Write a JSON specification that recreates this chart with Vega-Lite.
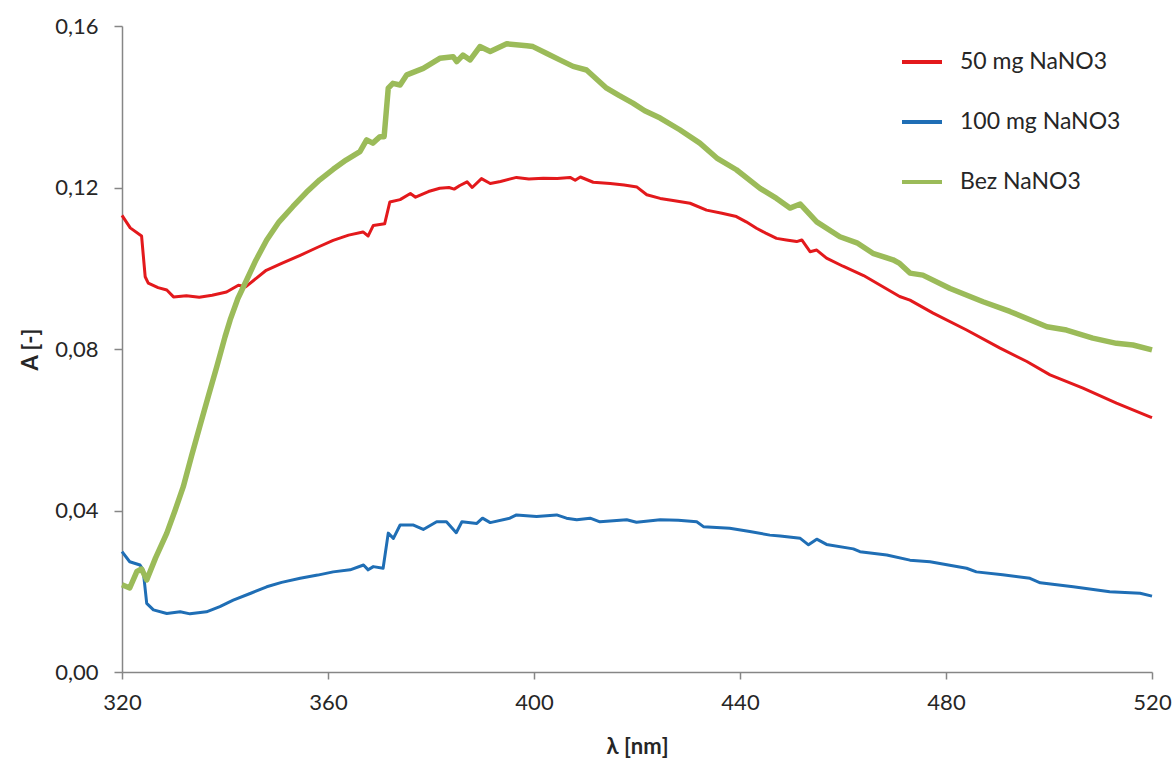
{
  "$schema": "https://vega.github.io/schema/vega-lite/v6.json",
  "width": 1030,
  "height": 646,
  "autosize": "none",
  "padding": {"left": 122, "top": 26, "right": 24, "bottom": 93},
  "background": "white",
  "config": {"view": {"stroke": null}, "font": "Lato"},
  "data": {"values": [
    {"s":"50 mg NaNO3","l":320,"a":0.1131},{"s":"50 mg NaNO3","l":321.6,"a":0.110},{"s":"50 mg NaNO3","l":323.8,"a":0.108},{"s":"50 mg NaNO3","l":324.5,"a":0.0979},{"s":"50 mg NaNO3","l":325.1,"a":0.0963},{"s":"50 mg NaNO3","l":327,"a":0.0952},{"s":"50 mg NaNO3","l":328.7,"a":0.0946},{"s":"50 mg NaNO3","l":330,"a":0.0929},{"s":"50 mg NaNO3","l":332.5,"a":0.0932},{"s":"50 mg NaNO3","l":335,"a":0.0928},{"s":"50 mg NaNO3","l":337.5,"a":0.0933},{"s":"50 mg NaNO3","l":340.3,"a":0.0941},{"s":"50 mg NaNO3","l":342.6,"a":0.0958},{"s":"50 mg NaNO3","l":344,"a":0.0954},{"s":"50 mg NaNO3","l":348,"a":0.0995},{"s":"50 mg NaNO3","l":351,"a":0.1012},{"s":"50 mg NaNO3","l":354.6,"a":0.1032},{"s":"50 mg NaNO3","l":358,"a":0.1052},{"s":"50 mg NaNO3","l":361,"a":0.1069},{"s":"50 mg NaNO3","l":364,"a":0.1082},{"s":"50 mg NaNO3","l":366.8,"a":0.109},{"s":"50 mg NaNO3","l":367.8,"a":0.108},{"s":"50 mg NaNO3","l":368.8,"a":0.1106},{"s":"50 mg NaNO3","l":371,"a":0.111},{"s":"50 mg NaNO3","l":372,"a":0.1164},{"s":"50 mg NaNO3","l":374,"a":0.117},{"s":"50 mg NaNO3","l":376,"a":0.1185},{"s":"50 mg NaNO3","l":377,"a":0.1176},{"s":"50 mg NaNO3","l":379.5,"a":0.119},{"s":"50 mg NaNO3","l":381.7,"a":0.1198},{"s":"50 mg NaNO3","l":383.5,"a":0.12},{"s":"50 mg NaNO3","l":384.5,"a":0.1196},{"s":"50 mg NaNO3","l":385.6,"a":0.1205},{"s":"50 mg NaNO3","l":387,"a":0.1214},{"s":"50 mg NaNO3","l":388,"a":0.12},{"s":"50 mg NaNO3","l":389.8,"a":0.1222},{"s":"50 mg NaNO3","l":391.5,"a":0.121},{"s":"50 mg NaNO3","l":393.5,"a":0.1215},{"s":"50 mg NaNO3","l":396.6,"a":0.1225},{"s":"50 mg NaNO3","l":399,"a":0.1221},{"s":"50 mg NaNO3","l":401.8,"a":0.1223},{"s":"50 mg NaNO3","l":404.5,"a":0.1222},{"s":"50 mg NaNO3","l":407,"a":0.1225},{"s":"50 mg NaNO3","l":408,"a":0.1218},{"s":"50 mg NaNO3","l":409,"a":0.1226},{"s":"50 mg NaNO3","l":411.5,"a":0.1213},{"s":"50 mg NaNO3","l":414.8,"a":0.121},{"s":"50 mg NaNO3","l":417.5,"a":0.1206},{"s":"50 mg NaNO3","l":420,"a":0.1201},{"s":"50 mg NaNO3","l":421.9,"a":0.1182},{"s":"50 mg NaNO3","l":424.5,"a":0.1173},{"s":"50 mg NaNO3","l":427,"a":0.1168},{"s":"50 mg NaNO3","l":430.3,"a":0.1161},{"s":"50 mg NaNO3","l":433.5,"a":0.1144},{"s":"50 mg NaNO3","l":436.5,"a":0.1136},{"s":"50 mg NaNO3","l":439.3,"a":0.1128},{"s":"50 mg NaNO3","l":441.2,"a":0.1115},{"s":"50 mg NaNO3","l":443.2,"a":0.1099},{"s":"50 mg NaNO3","l":445,"a":0.1087},{"s":"50 mg NaNO3","l":447.1,"a":0.1074},{"s":"50 mg NaNO3","l":449,"a":0.107},{"s":"50 mg NaNO3","l":451,"a":0.1066},{"s":"50 mg NaNO3","l":452,"a":0.107},{"s":"50 mg NaNO3","l":453.6,"a":0.1041},{"s":"50 mg NaNO3","l":454.9,"a":0.1045},{"s":"50 mg NaNO3","l":456.8,"a":0.1025},{"s":"50 mg NaNO3","l":460,"a":0.1005},{"s":"50 mg NaNO3","l":464,"a":0.0982},{"s":"50 mg NaNO3","l":467.5,"a":0.0956},{"s":"50 mg NaNO3","l":471,"a":0.093},{"s":"50 mg NaNO3","l":473,"a":0.0921},{"s":"50 mg NaNO3","l":477.5,"a":0.0889},{"s":"50 mg NaNO3","l":484,"a":0.0847},{"s":"50 mg NaNO3","l":490.5,"a":0.0802},{"s":"50 mg NaNO3","l":495.7,"a":0.0769},{"s":"50 mg NaNO3","l":500.2,"a":0.0736},{"s":"50 mg NaNO3","l":506.6,"a":0.0703},{"s":"50 mg NaNO3","l":513.1,"a":0.0666},{"s":"50 mg NaNO3","l":519.6,"a":0.0632},{"s":"50 mg NaNO3","l":520,"a":0.063},
    {"s":"100 mg NaNO3","l":320,"a":0.0298},{"s":"100 mg NaNO3","l":321.5,"a":0.0273},{"s":"100 mg NaNO3","l":323.5,"a":0.0265},{"s":"100 mg NaNO3","l":324.1,"a":0.0253},{"s":"100 mg NaNO3","l":324.8,"a":0.017},{"s":"100 mg NaNO3","l":326.1,"a":0.0154},{"s":"100 mg NaNO3","l":328.7,"a":0.0145},{"s":"100 mg NaNO3","l":331.3,"a":0.0149},{"s":"100 mg NaNO3","l":333.2,"a":0.0144},{"s":"100 mg NaNO3","l":336.4,"a":0.0149},{"s":"100 mg NaNO3","l":339,"a":0.0162},{"s":"100 mg NaNO3","l":341.6,"a":0.0178},{"s":"100 mg NaNO3","l":345,"a":0.0195},{"s":"100 mg NaNO3","l":348.1,"a":0.0211},{"s":"100 mg NaNO3","l":351,"a":0.0222},{"s":"100 mg NaNO3","l":354.6,"a":0.0232},{"s":"100 mg NaNO3","l":358,"a":0.024},{"s":"100 mg NaNO3","l":361,"a":0.0248},{"s":"100 mg NaNO3","l":364.3,"a":0.0253},{"s":"100 mg NaNO3","l":366.9,"a":0.0265},{"s":"100 mg NaNO3","l":367.8,"a":0.0253},{"s":"100 mg NaNO3","l":368.8,"a":0.0261},{"s":"100 mg NaNO3","l":370.7,"a":0.0257},{"s":"100 mg NaNO3","l":371.7,"a":0.0344},{"s":"100 mg NaNO3","l":372.7,"a":0.0331},{"s":"100 mg NaNO3","l":374,"a":0.0364},{"s":"100 mg NaNO3","l":376.6,"a":0.0364},{"s":"100 mg NaNO3","l":378.5,"a":0.0353},{"s":"100 mg NaNO3","l":381.1,"a":0.0372},{"s":"100 mg NaNO3","l":383,"a":0.0372},{"s":"100 mg NaNO3","l":384.9,"a":0.0345},{"s":"100 mg NaNO3","l":386,"a":0.0372},{"s":"100 mg NaNO3","l":388.9,"a":0.0368},{"s":"100 mg NaNO3","l":390,"a":0.0381},{"s":"100 mg NaNO3","l":391.5,"a":0.037},{"s":"100 mg NaNO3","l":395.3,"a":0.0381},{"s":"100 mg NaNO3","l":396.6,"a":0.0389},{"s":"100 mg NaNO3","l":400.5,"a":0.0385},{"s":"100 mg NaNO3","l":404.4,"a":0.0389},{"s":"100 mg NaNO3","l":406.3,"a":0.0381},{"s":"100 mg NaNO3","l":408.3,"a":0.0377},{"s":"100 mg NaNO3","l":410.9,"a":0.0381},{"s":"100 mg NaNO3","l":412.8,"a":0.0372},{"s":"100 mg NaNO3","l":418,"a":0.0377},{"s":"100 mg NaNO3","l":419.9,"a":0.0371},{"s":"100 mg NaNO3","l":424.5,"a":0.0377},{"s":"100 mg NaNO3","l":428,"a":0.0376},{"s":"100 mg NaNO3","l":431.6,"a":0.0372},{"s":"100 mg NaNO3","l":432.9,"a":0.036},{"s":"100 mg NaNO3","l":438,"a":0.0356},{"s":"100 mg NaNO3","l":441.9,"a":0.0348},{"s":"100 mg NaNO3","l":445.8,"a":0.0339},{"s":"100 mg NaNO3","l":447.8,"a":0.0337},{"s":"100 mg NaNO3","l":451.7,"a":0.0331},{"s":"100 mg NaNO3","l":453.3,"a":0.0315},{"s":"100 mg NaNO3","l":454.9,"a":0.0329},{"s":"100 mg NaNO3","l":456.8,"a":0.0316},{"s":"100 mg NaNO3","l":462,"a":0.0305},{"s":"100 mg NaNO3","l":463.3,"a":0.0298},{"s":"100 mg NaNO3","l":468.5,"a":0.029},{"s":"100 mg NaNO3","l":473,"a":0.0277},{"s":"100 mg NaNO3","l":476.9,"a":0.0273},{"s":"100 mg NaNO3","l":484,"a":0.0257},{"s":"100 mg NaNO3","l":485.9,"a":0.0248},{"s":"100 mg NaNO3","l":491,"a":0.0241},{"s":"100 mg NaNO3","l":496.3,"a":0.0232},{"s":"100 mg NaNO3","l":498.3,"a":0.0221},{"s":"100 mg NaNO3","l":504.7,"a":0.0211},{"s":"100 mg NaNO3","l":511.8,"a":0.0199},{"s":"100 mg NaNO3","l":517.7,"a":0.0195},{"s":"100 mg NaNO3","l":520,"a":0.0188},
    {"s":"Bez NaNO3","l":320,"a":0.0216},{"s":"Bez NaNO3","l":321.5,"a":0.0208},{"s":"Bez NaNO3","l":322.9,"a":0.0249},{"s":"Bez NaNO3","l":323.8,"a":0.0255},{"s":"Bez NaNO3","l":324.8,"a":0.0228},{"s":"Bez NaNO3","l":326.5,"a":0.0282},{"s":"Bez NaNO3","l":328.7,"a":0.0344},{"s":"Bez NaNO3","l":330.3,"a":0.04},{"s":"Bez NaNO3","l":331.9,"a":0.0459},{"s":"Bez NaNO3","l":333.5,"a":0.0535},{"s":"Bez NaNO3","l":335.1,"a":0.0608},{"s":"Bez NaNO3","l":336.8,"a":0.0685},{"s":"Bez NaNO3","l":338.4,"a":0.0756},{"s":"Bez NaNO3","l":340,"a":0.083},{"s":"Bez NaNO3","l":341,"a":0.0872},{"s":"Bez NaNO3","l":342.5,"a":0.0925},{"s":"Bez NaNO3","l":344.2,"a":0.0971},{"s":"Bez NaNO3","l":346,"a":0.102},{"s":"Bez NaNO3","l":348.1,"a":0.107},{"s":"Bez NaNO3","l":350.5,"a":0.1115},{"s":"Bez NaNO3","l":353.2,"a":0.1153},{"s":"Bez NaNO3","l":355.8,"a":0.1188},{"s":"Bez NaNO3","l":358.4,"a":0.1219},{"s":"Bez NaNO3","l":361,"a":0.1245},{"s":"Bez NaNO3","l":363.5,"a":0.1268},{"s":"Bez NaNO3","l":366.2,"a":0.1289},{"s":"Bez NaNO3","l":367.5,"a":0.1318},{"s":"Bez NaNO3","l":368.7,"a":0.131},{"s":"Bez NaNO3","l":370.1,"a":0.1326},{"s":"Bez NaNO3","l":370.9,"a":0.1326},{"s":"Bez NaNO3","l":371.7,"a":0.1446},{"s":"Bez NaNO3","l":372.6,"a":0.1458},{"s":"Bez NaNO3","l":374,"a":0.1454},{"s":"Bez NaNO3","l":375.3,"a":0.1479},{"s":"Bez NaNO3","l":378.5,"a":0.1495},{"s":"Bez NaNO3","l":381.7,"a":0.152},{"s":"Bez NaNO3","l":384.3,"a":0.1524},{"s":"Bez NaNO3","l":385,"a":0.1512},{"s":"Bez NaNO3","l":386.2,"a":0.1528},{"s":"Bez NaNO3","l":387.6,"a":0.1516},{"s":"Bez NaNO3","l":389.5,"a":0.1549},{"s":"Bez NaNO3","l":391.5,"a":0.1537},{"s":"Bez NaNO3","l":394.7,"a":0.1556},{"s":"Bez NaNO3","l":398.6,"a":0.1551},{"s":"Bez NaNO3","l":399.8,"a":0.1549},{"s":"Bez NaNO3","l":402.5,"a":0.1532},{"s":"Bez NaNO3","l":405,"a":0.1516},{"s":"Bez NaNO3","l":407.6,"a":0.15},{"s":"Bez NaNO3","l":410.2,"a":0.1491},{"s":"Bez NaNO3","l":414.1,"a":0.1446},{"s":"Bez NaNO3","l":416.5,"a":0.1428},{"s":"Bez NaNO3","l":419.2,"a":0.1409},{"s":"Bez NaNO3","l":421.5,"a":0.139},{"s":"Bez NaNO3","l":424.5,"a":0.1372},{"s":"Bez NaNO3","l":428.3,"a":0.1343},{"s":"Bez NaNO3","l":432.2,"a":0.131},{"s":"Bez NaNO3","l":435.5,"a":0.1273},{"s":"Bez NaNO3","l":439.3,"a":0.1244},{"s":"Bez NaNO3","l":443.9,"a":0.1198},{"s":"Bez NaNO3","l":447.1,"a":0.1173},{"s":"Bez NaNO3","l":449.7,"a":0.1149},{"s":"Bez NaNO3","l":451.7,"a":0.1159},{"s":"Bez NaNO3","l":454.9,"a":0.1115},{"s":"Bez NaNO3","l":459.4,"a":0.1078},{"s":"Bez NaNO3","l":462.7,"a":0.1063},{"s":"Bez NaNO3","l":465.8,"a":0.1037},{"s":"Bez NaNO3","l":469.7,"a":0.1021},{"s":"Bez NaNO3","l":471,"a":0.1012},{"s":"Bez NaNO3","l":473,"a":0.0988},{"s":"Bez NaNO3","l":475.5,"a":0.0983},{"s":"Bez NaNO3","l":480.8,"a":0.095},{"s":"Bez NaNO3","l":487.2,"a":0.0917},{"s":"Bez NaNO3","l":492.4,"a":0.0893},{"s":"Bez NaNO3","l":499.6,"a":0.0855},{"s":"Bez NaNO3","l":503.4,"a":0.0847},{"s":"Bez NaNO3","l":508.5,"a":0.0827},{"s":"Bez NaNO3","l":513.1,"a":0.0814},{"s":"Bez NaNO3","l":516.3,"a":0.081},{"s":"Bez NaNO3","l":520,"a":0.0798}
  ]},
  "encoding": {
    "x": {
      "field": "l", "type": "quantitative",
      "scale": {"domain": [320, 520], "nice": false, "zero": false},
      "axis": {
        "title": "λ [nm]", "values": [320, 360, 400, 440, 480, 520], "grid": false,
        "labelFlush": false, "labelOverlap": false,
        "domainColor": "#868686", "domainWidth": 1.5, "tickColor": "#868686", "tickWidth": 1.5, "tickSize": 7,
        "labelFont": "Lato", "labelFontSize": 22, "labelColor": "#262626", "labelPadding": 13,
        "titleFont": "Lato", "titleFontSize": 22, "titleFontWeight": "bold", "titleColor": "#262626",
        "titleX": 515, "titleY": 74, "titleBaseline": "middle", "titleAlign": "center"
      }
    },
    "y": {
      "field": "a", "type": "quantitative",
      "scale": {"domain": [0, 0.16], "nice": false},
      "axis": {
        "title": "A [-]", "values": [0, 0.04, 0.08, 0.12, 0.16], "grid": false,
        "labelFlush": false, "labelOverlap": false,
        "labelExpr": "replace(format(datum.value, '.2f'), '.', ',')",
        "domainColor": "#868686", "domainWidth": 1.5, "tickColor": "#868686", "tickWidth": 1.5, "tickSize": 8,
        "labelFont": "Lato", "labelFontSize": 22, "labelColor": "#262626", "labelPadding": 16,
        "titleFont": "Lato", "titleFontSize": 22, "titleFontWeight": "bold", "titleColor": "#262626",
        "titleX": -92, "titleY": 323, "titleAngle": -90, "titleBaseline": "middle", "titleAlign": "center"
      }
    },
    "color": {
      "field": "s", "type": "nominal",
      "scale": {"domain": ["50 mg NaNO3", "100 mg NaNO3", "Bez NaNO3"], "range": ["#E3191C", "#1F6EB5", "#9BBB59"]},
      "legend": {
        "title": null, "orient": "none", "legendX": 778, "legendY": 14, "padding": 0,
        "symbolType": "stroke", "symbolSize": 1600, "symbolStrokeWidth": 4,
        "labelFont": "Lato", "labelFontSize": 23, "labelColor": "#262626", "labelOffset": 16,
        "labelLimit": 400, "rowPadding": 26
      }
    }
  },
  "layer": [
    {"transform": [{"filter": "datum.s === '50 mg NaNO3'"}], "mark": {"type": "line", "strokeWidth": 3, "strokeJoin": "round"}},
    {"transform": [{"filter": "datum.s === '100 mg NaNO3'"}], "mark": {"type": "line", "strokeWidth": 3, "strokeJoin": "round"}},
    {"transform": [{"filter": "datum.s === 'Bez NaNO3'"}], "mark": {"type": "line", "strokeWidth": 5.5, "strokeJoin": "round"}}
  ]
}
